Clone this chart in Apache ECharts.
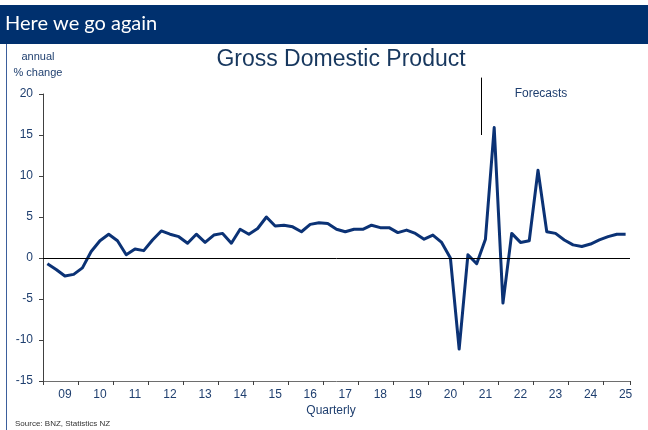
<!DOCTYPE html>
<html>
<head>
<meta charset="utf-8">
<script src="https://cdn.jsdelivr.net/npm/echarts@6/dist/echarts.min.js"></script>
<style>
html,body{margin:0;padding:0;background:#fff;}
#chart{width:648px;height:430px;}
</style>
</head>
<body>
<div id="chart"></div>
<script>
// Data
var years = ['09','10','11','12','13','14','15','16','17','18','19','20','21','22','23','24','25'];
var quarters = ['Q1','Q2','Q3','Q4'];
var lastYearQuarters = 3; // 2025 runs to Q3
var gdp = [
  -0.7, -1.4, -2.2, -2.0,   // 2009
  -1.2, 0.8, 2.1, 2.9,      // 2010
  2.1, 0.4, 1.1, 0.9,       // 2011
  2.2, 3.3, 2.9, 2.6,       // 2012
  1.8, 2.9, 1.9, 2.8,       // 2013
  3.0, 1.8, 3.5, 2.9,       // 2014
  3.6, 5.0, 3.9, 4.0,       // 2015
  3.8, 3.2, 4.1, 4.3,       // 2016
  4.2, 3.5, 3.2, 3.5,       // 2017
  3.5, 4.0, 3.7, 3.7,       // 2018
  3.1, 3.4, 3.0, 2.3,       // 2019
  2.8, 1.9, 0.0, -11.1,     // 2020
  0.4, -0.7, 2.3, 15.9,     // 2021
  -5.5, 3.0, 1.9, 2.1,      // 2022
  10.7, 3.2, 3.0, 2.2,      // 2023
  1.6, 1.4, 1.7, 2.2,       // 2024
  2.6, 2.9, 2.9             // 2025
];
var yTicks = { min: -15, max: 20, interval: 5 };
var forecastStartIndex = 50;   // first forecast quarter
var forecastLineTop = 22.0;    // value units
var forecastLineBottom = 15.0;

var categories = [];
years.forEach(function (y, i) {
  var n = (i === years.length - 1) ? lastYearQuarters : 4;
  for (var q = 0; q < n; q++) categories.push(y + quarters[q]);
});

var navy = '#0B3275';
var textBlue = '#1F3F6F';

var chart = echarts.init(document.getElementById('chart'), null, {renderer: 'canvas'});
var option = {
  animation: false,
  backgroundColor: '#ffffff',
  grid: { left: 43, right: 18, top: 94, bottom: 49, containLabel: false },
  xAxis: {
    type: 'category',
    data: categories,
    boundaryGap: true,
    axisLine: { onZero: false, lineStyle: { color: '#6e6e6e', width: 1 } },
    axisTick: {
      show: true, length: 4, inside: false,
      lineStyle: { color: '#404040' },
      interval: function (idx) { return idx % 4 === 0; }
    },
    axisLabel: {
      color: textBlue, fontSize: 12, fontFamily: 'Liberation Sans, Arial, sans-serif', margin: 8,
      interval: function (idx) { return idx % 4 === 2; },
      formatter: function (v) { return v.slice(0, 2); }
    },
    splitLine: { show: false }
  },
  yAxis: {
    type: 'value',
    min: yTicks.min, max: yTicks.max, interval: yTicks.interval,
    axisLine: { show: true, lineStyle: { color: '#404040', width: 1 } },
    axisTick: { show: true, length: 4, lineStyle: { color: '#404040' } },
    axisLabel: { color: textBlue, fontSize: 12, fontFamily: 'Liberation Sans, Arial, sans-serif', margin: 10 },
    splitLine: { show: false }
  },
  series: [{
    type: 'line',
    data: gdp,
    symbol: 'none',
    lineStyle: { color: navy, width: 3, join: 'round' },
    itemStyle: { color: navy },
    markLine: {
      silent: true, symbol: 'none', label: { show: false },
      lineStyle: { color: '#000000', width: 1, type: 'solid' },
      data: [{ yAxis: 0 }]
    },
    z: 3
  }],
  graphic: []
};
chart.setOption(option);

var p0 = chart.convertToPixel({gridIndex: 0}, [0, 0]);
var p1 = chart.convertToPixel({gridIndex: 0}, [1, 0]);
var band = p1[0] - p0[0];
var fx = chart.convertToPixel({gridIndex: 0}, [forecastStartIndex, forecastLineTop]);
var fb = chart.convertToPixel({gridIndex: 0}, [forecastStartIndex, forecastLineBottom]);
var lineX = Math.round(fx[0] - band / 2) + 0.5;

chart.setOption({
  graphic: [
    { type: 'rect', shape: { x: 0, y: 5, width: 648, height: 39 }, style: { fill: '#00306E' }, z: 10 },
    { type: 'text', x: 5, y: 24, style: { text: 'Here we go again', fill: '#ffffff', font: '20px Lato, "Open Sans", sans-serif', textVerticalAlign: 'middle' }, z: 11 },
    { type: 'line', shape: { x1: 6.5, y1: 44, x2: 6.5, y2: 430 }, style: { stroke: '#3B5E9C', lineWidth: 1 }, z: 10 },
    { type: 'text', x: 341, y: 60, style: { text: 'Gross Domestic Product', fill: '#17375E', font: '23px "Liberation Sans", Arial, sans-serif', textAlign: 'center', textVerticalAlign: 'middle' }, z: 11 },
    { type: 'text', x: 38, y: 57, style: { text: 'annual', fill: textBlue, font: '11px "Liberation Sans", Arial, sans-serif', textAlign: 'center', textVerticalAlign: 'middle' } },
    { type: 'text', x: 38, y: 73, style: { text: '% change', fill: textBlue, font: '11px "Liberation Sans", Arial, sans-serif', textAlign: 'center', textVerticalAlign: 'middle' } },
    { type: 'text', x: 331, y: 411, style: { text: 'Quarterly', fill: textBlue, font: '12px "Liberation Sans", Arial, sans-serif', textAlign: 'center', textVerticalAlign: 'middle' } },
    { type: 'text', x: 15, y: 424, style: { text: 'Source: BNZ, Statistics NZ', fill: '#333333', font: '8px "Liberation Sans", Arial, sans-serif', textVerticalAlign: 'middle' } },
    { type: 'line', shape: { x1: lineX, y1: fx[1], x2: lineX, y2: fb[1] }, style: { stroke: '#000000', lineWidth: 1 } },
    { type: 'text', x: 541, y: 94, style: { text: 'Forecasts', fill: textBlue, font: '12px "Liberation Sans", Arial, sans-serif', textAlign: 'center', textVerticalAlign: 'middle' } }
  ]
});
</script>
</body>
</html>
